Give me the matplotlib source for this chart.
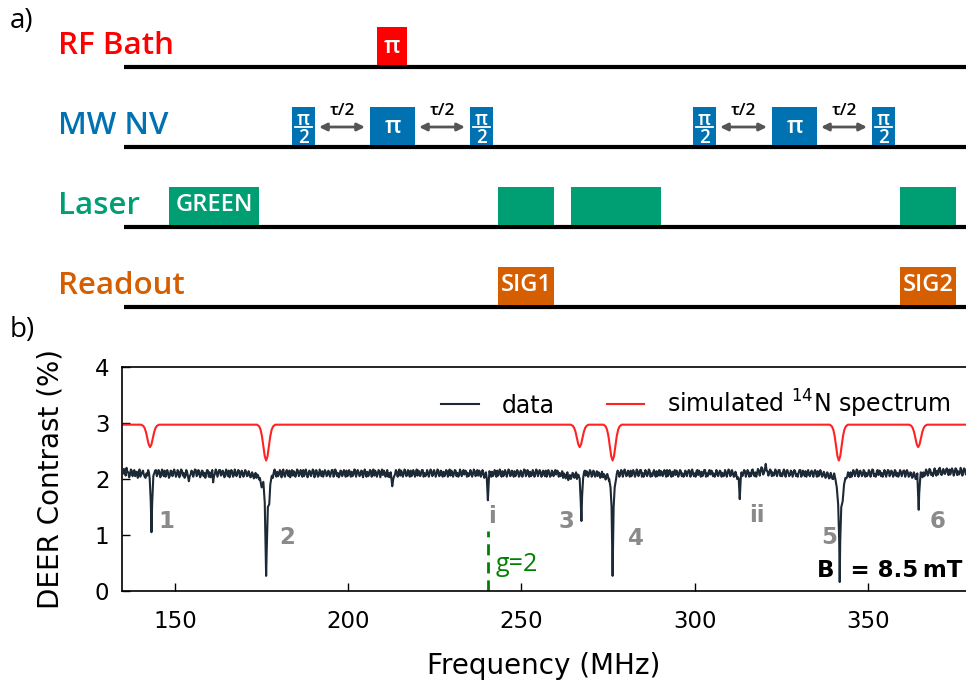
import numpy as np
import matplotlib
matplotlib.use("Agg")
import matplotlib.pyplot as plt

# ---- panel a: pulse sequence (time in arbitrary units along the channel line) ----
channels = ["RF Bath", "MW NV", "Laser", "Readout"]
channel_colors = ["#ff0000", "#0072b2", "#009e73", "#d55e00"]
rf_start, rf_end, rf_label = [253], [283], ["π"]
mw_start = [168, 246, 346, 569, 648, 748]
mw_end = [191, 291, 369, 592, 693, 771]
mw_label = ["π/2", "π", "π/2", "π/2", "π", "π/2"]
laser_start, laser_end = [45, 374, 447, 776], [135, 430, 537, 832]
laser_label = ["GREEN", "", "", ""]
read_start, read_end, read_label = [374, 776], [430, 832], ["SIG1", "SIG2"]
seq_length = 842

# ---- panel b: DEER spectrum ----
# measured trace away from the resonances, 0.5 MHz steps from 135 MHz
base_val = [
    2.10, 2.15, 2.20, 2.12, 2.07, 2.15, 2.10, 2.05, 2.13, 2.09, 2.04, 2.12, 2.08, 2.02, 2.06, 2.11, 2.08, 2.14, 2.10, 2.16,
    2.09, 2.13, 2.07, 2.12, 2.15, 2.08, 2.11, 2.06, 2.14, 2.10, 2.12, 2.07, 2.13, 2.09, 2.15, 2.11, 2.05, 2.12, 1.96, 2.08,
    2.13, 2.10, 2.16, 2.08, 2.12, 2.07, 2.14, 2.11, 2.09, 2.15, 2.12, 2.06, 1.94, 2.09, 2.13, 2.10, 2.16, 2.08, 2.12, 2.07,
    2.11, 2.15, 2.09, 2.13, 2.07, 2.12, 2.10, 2.14, 2.08, 2.11, 2.09, 2.13, 2.06, 2.10, 2.04, 2.08, 2.05, 2.02, 2.06, 2.03,
    2.05, 2.00, 2.02, 2.04, 2.07, 2.10, 2.06, 2.12, 2.09, 2.13, 2.08, 2.14, 2.11, 2.07, 2.12, 2.10, 2.15, 2.09, 2.06, 2.12,
    2.10, 2.14, 2.08, 2.12, 2.16, 2.09, 2.11, 2.07, 2.13, 2.10, 2.15, 2.08, 2.12, 2.06, 2.11, 2.14, 2.09, 2.13, 2.07, 2.12,
    2.10, 2.16, 2.08, 2.13, 2.11, 2.06, 2.14, 2.09, 2.12, 2.15, 2.07, 2.11, 2.13, 2.08, 2.16, 2.10, 2.12, 2.07, 2.14, 2.09,
    2.11, 2.13, 2.08, 2.15, 2.10, 2.06, 2.12, 2.09, 2.14, 2.10, 2.07, 2.12, 2.08, 2.04, 2.03, 2.09, 2.12, 2.08, 2.13, 2.10,
    2.06, 2.12, 2.09, 2.14, 2.07, 2.11, 2.15, 2.08, 2.12, 2.10, 2.06, 2.13, 2.09, 2.16, 2.11, 2.07, 2.12, 2.10, 2.14, 2.08,
    2.12, 2.09, 2.15, 2.07, 2.11, 2.13, 2.08, 2.14, 2.10, 2.06, 2.12, 2.09, 2.15, 2.11, 2.07, 2.13, 2.10, 2.08, 2.14, 2.11,
    2.07, 2.12, 2.09, 2.14, 2.10, 2.06, 2.13, 2.08, 2.11, 2.05, 2.03, 2.06, 2.10, 2.13, 2.08, 2.12, 2.15, 2.09, 2.11, 2.14,
    2.08, 2.12, 2.10, 2.15, 2.07, 2.11, 2.14, 2.09, 2.13, 2.06, 2.12, 2.10, 2.16, 2.08, 2.11, 2.13, 2.07, 2.12, 2.09, 2.14,
    2.10, 2.13, 2.07, 2.12, 2.15, 2.09, 2.11, 2.06, 2.13, 2.10, 2.08, 2.14, 2.11, 2.07, 2.02, 2.08, 2.05, 1.98, 2.07, 2.04,
    2.09, 2.05, 2.00, 2.07, 2.04, 2.08, 2.10, 2.06, 2.12, 2.09, 2.13, 2.07, 2.11, 2.08, 2.05, 2.10, 2.06, 2.03, 2.07, 2.02,
    2.04, 2.00, 2.05, 2.02, 2.06, 2.09, 2.12, 2.08, 2.14, 2.10, 2.13, 2.07, 2.11, 2.15, 2.09, 2.12, 2.08, 2.14, 2.10, 2.16,
    2.11, 2.07, 2.13, 2.09, 2.15, 2.10, 2.12, 2.08, 2.14, 2.11, 2.06, 2.13, 2.09, 2.12, 2.16, 2.10, 2.08, 2.13, 2.11, 2.07,
    2.12, 2.09, 2.14, 2.10, 2.06, 2.13, 2.11, 2.15, 2.08, 2.12, 2.10, 2.14, 2.07, 2.11, 2.13, 2.09, 2.16, 2.10, 2.12, 2.08,
    2.14, 2.10, 2.07, 2.12, 2.09, 2.13, 2.11, 2.06, 2.12, 2.10, 2.15, 2.08, 2.11, 2.05, 2.08, 2.03, 2.09, 2.12, 2.10, 2.14,
    2.09, 2.13, 2.11, 2.16, 2.08, 2.12, 2.10, 2.15, 2.13, 2.19, 2.11, 2.27, 2.14, 2.10, 2.15, 2.12, 2.08, 2.14, 2.11, 2.16,
    2.10, 2.13, 2.08, 2.15, 2.11, 2.07, 2.13, 2.10, 2.14, 2.09, 2.12, 2.16, 2.08, 2.11, 2.14, 2.10, 2.07, 2.12, 2.09, 2.13,
    2.10, 2.14, 2.08, 2.11, 2.06, 2.09, 2.05, 2.08, 2.02, 2.06, 2.00, 2.03, 1.98, 2.02, 2.04, 2.00, 2.05, 2.08, 2.04, 2.09,
    2.12, 2.08, 2.13, 2.10, 2.15, 2.09, 2.12, 2.07, 2.14, 2.11, 2.08, 2.13, 2.10, 2.16, 2.09, 2.12, 2.07, 2.14, 2.11, 2.08,
    2.13, 2.10, 2.15, 2.09, 2.12, 2.07, 2.14, 2.11, 2.08, 2.13, 2.10, 2.15, 2.09, 2.12, 2.06, 2.10, 2.04, 2.08, 2.02, 2.06,
    2.04, 2.09, 2.12, 2.08, 2.14, 2.10, 2.16, 2.11, 2.13, 2.09, 2.15, 2.18, 2.11, 2.14, 2.10, 2.16, 2.12, 2.17, 2.13, 2.15,
    2.11, 2.18, 2.14, 2.10, 2.16, 2.12, 2.17, 2.13, 2.15, 2.11,
]
# the in-between samples (0.25 MHz after each base sample)
mid_val = [
    2.18, 2.06, 2.13, 2.03, 2.17, 2.05, 2.16, 2.12, 2.02, 2.17, 2.08, 2.15, 2.04, 2.10, 2.16, 2.03, 2.18, 2.06, 2.15, 2.05,
    2.16, 2.03, 2.17, 2.05, 2.04, 2.16, 2.02, 2.15, 2.05, 2.17, 2.04, 2.16, 2.03, 2.17, 2.06, 2.02, 2.16, 2.04, 2.05, 2.15,
    2.04, 2.17, 2.05, 2.16, 2.03, 2.15, 2.05, 2.02, 2.16, 2.04, 2.03, 2.16, 2.05, 2.17, 2.04, 2.16, 2.06, 2.15, 2.03, 2.17,
    2.05, 2.03, 2.16, 2.04, 2.17, 2.05, 2.16, 2.03, 2.15, 2.04, 2.16, 2.05, 2.14, 2.03, 2.12, 2.01, 2.11, 2.08, 1.99, 2.10,
    1.98, 2.09, 2.07, 2.12, 2.03, 2.15, 2.02, 2.17, 2.04, 2.05, 2.16, 2.03, 2.17, 2.04, 2.16, 2.05, 2.03, 2.16, 2.14, 2.04,
    2.17, 2.05, 2.16, 2.04, 2.05, 2.17, 2.03, 2.15, 2.05, 2.17, 2.03, 2.16, 2.04, 2.17, 2.05, 2.04, 2.16, 2.05, 2.15, 2.04,
    2.16, 2.04, 2.17, 2.05, 2.03, 2.15, 2.05, 2.16, 2.04, 2.05, 2.16, 2.04, 2.05, 2.17, 2.04, 2.16, 2.05, 2.15, 2.03, 2.17,
    2.04, 2.05, 2.16, 2.04, 2.17, 2.15, 2.04, 2.16, 2.03, 2.17, 2.15, 2.04, 2.16, 2.10, 2.12, 2.02, 2.05, 2.16, 2.04, 2.17,
    2.15, 2.04, 2.17, 2.05, 2.16, 2.04, 2.05, 2.16, 2.04, 2.17, 2.15, 2.05, 2.16, 2.04, 2.05, 2.16, 2.04, 2.17, 2.05, 2.16,
    2.04, 2.17, 2.05, 2.15, 2.04, 2.05, 2.16, 2.04, 2.17, 2.15, 2.04, 2.16, 2.05, 2.04, 2.17, 2.05, 2.16, 2.15, 2.04, 2.05,
    2.16, 2.04, 2.17, 2.05, 2.16, 2.15, 2.04, 2.16, 2.02, 2.12, 2.10, 2.14, 2.04, 2.05, 2.16, 2.04, 2.06, 2.17, 2.04, 2.05,
    2.16, 2.04, 2.17, 2.05, 2.15, 2.04, 2.05, 2.16, 2.04, 2.15, 2.04, 2.17, 2.05, 2.16, 2.04, 2.05, 2.16, 2.04, 2.17, 2.05,
    2.16, 2.04, 2.15, 2.05, 2.04, 2.16, 2.04, 2.15, 2.05, 2.16, 2.15, 2.04, 2.05, 2.14, 2.10, 2.01, 2.12, 2.06, 2.00, 2.11,
    2.02, 2.12, 2.08, 2.01, 2.13, 2.02, 2.15, 2.14, 2.04, 2.16, 2.04, 2.15, 2.04, 2.14, 2.12, 2.02, 2.13, 2.09, 1.99, 2.09,
    1.97, 2.08, 2.01, 2.10, 2.00, 2.15, 2.04, 2.16, 2.04, 2.17, 2.05, 2.15, 2.04, 2.05, 2.16, 2.04, 2.17, 2.05, 2.16, 2.04,
    2.04, 2.16, 2.05, 2.17, 2.04, 2.05, 2.16, 2.04, 2.05, 2.16, 2.14, 2.05, 2.16, 2.04, 2.05, 2.16, 2.04, 2.05, 2.16, 2.15,
    2.04, 2.16, 2.05, 2.04, 2.15, 2.05, 2.16, 2.04, 2.17, 2.05, 2.04, 2.16, 2.15, 2.04, 2.05, 2.16, 2.04, 2.05, 2.16, 2.15,
    2.05, 2.04, 2.16, 2.05, 2.15, 2.04, 2.05, 2.16, 2.04, 2.17, 2.05, 2.16, 2.04, 2.13, 2.00, 2.12, 2.03, 2.05, 2.16, 2.04,
    2.16, 2.04, 2.05, 2.17, 2.05, 2.04, 2.18, 2.06, 2.21, 2.08, 2.17, 2.15, 2.06, 2.17, 2.05, 2.06, 2.17, 2.05, 2.16, 2.05,
    2.05, 2.17, 2.04, 2.16, 2.05, 2.15, 2.04, 2.16, 2.05, 2.04, 2.16, 2.04, 2.15, 2.05, 2.04, 2.16, 2.05, 2.15, 2.04, 2.16,
    2.04, 2.05, 2.16, 2.04, 2.13, 2.02, 2.12, 2.01, 2.11, 2.00, 2.10, 1.99, 2.08, 1.97, 2.09, 2.10, 1.99, 2.01, 2.12, 2.03,
    2.04, 2.16, 2.05, 2.17, 2.04, 2.15, 2.05, 2.16, 2.04, 2.05, 2.16, 2.04, 2.17, 2.05, 2.04, 2.16, 2.15, 2.05, 2.04, 2.16,
    2.04, 2.16, 2.05, 2.15, 2.04, 2.16, 2.05, 2.04, 2.16, 2.05, 2.15, 2.04, 2.16, 2.04, 2.12, 2.02, 2.12, 2.00, 2.10, 2.01,
    2.12, 2.03, 2.05, 2.17, 2.06, 2.18, 2.07, 2.05, 2.19, 2.06, 2.08, 2.20, 2.07, 2.18, 2.09, 2.19, 2.07, 2.08, 2.19, 2.06,
    2.19, 2.07, 2.08, 2.20, 2.06, 2.19, 2.08, 2.07, 2.19, 2.08,
]
base_f0, base_step = 135.0, 0.5

# narrow resonances in the measured trace
dip1_f = [142.7, 143.0, 143.2, 143.4, 143.7]
dip1_v = [2.00, 1.60, 1.05, 1.55, 2.00]
dip2_f = [174.5, 175.0, 175.5, 175.9, 176.1, 176.3, 176.5, 176.8, 177.2, 177.5, 177.9]
dip2_v = [2.02, 1.85, 1.95, 1.58, 0.90, 0.27, 0.80, 1.50, 1.55, 1.90, 2.05]
dip_a_f = [212.4, 212.7, 213.0]
dip_a_v = [2.05, 1.87, 2.00]
dip_i_f = [240.0, 240.3, 240.6]
dip_i_v = [2.00, 1.62, 2.00]
dip3_f = [266.8, 267.1, 267.3, 267.5, 267.8]
dip3_v = [2.00, 1.60, 1.25, 1.70, 2.02]
dip4_f = [275.3, 275.7, 276.0, 276.3, 276.6, 276.9, 277.3]
dip4_v = [2.00, 1.85, 1.50, 0.27, 1.50, 1.85, 2.00]
dip_ii_f = [312.7, 313.0, 313.3]
dip_ii_v = [2.00, 1.64, 2.02]
dip5_f = [340.6, 341.0, 341.4, 341.7, 341.85, 342.0, 342.3, 342.7, 343.1, 343.5]
dip5_v = [2.00, 1.85, 1.55, 0.90, 0.16, 0.90, 1.50, 1.60, 1.90, 2.02]
dip6_f = [364.3, 364.5, 364.65, 364.8, 365.1]
dip6_v = [2.00, 1.70, 1.45, 1.75, 2.02]

# simulated 14N spectrum: flat level with dips of a common shape
sim_level = 2.97
sim_centers = [142.8, 176.3, 266.8, 276.3, 341.6, 364.5]
sim_depths = [0.40, 0.64, 0.40, 0.64, 0.64, 0.40]
dip_offsets = [-2.6, -2.0, -1.6, -1.2, -0.8, -0.4, 0.0, 0.4, 0.8, 1.2, 1.6, 2.0, 2.6]
dip_shape = [0.0, 0.05, 0.14, 0.32, 0.60, 0.88, 1.0, 0.88, 0.60, 0.32, 0.14, 0.05, 0.0]

peak_labels = ["1", "2", "i", "3", "4", "ii", "5", "6"]
peak_label_x = [147.6, 182.4, 241.5, 262.9, 283.0, 317.8, 338.9, 370.0]
peak_label_y = [1.24, 0.95, 1.33, 1.25, 0.94, 1.34, 0.95, 1.25]
g2_freq = 240.3

# ---------------------------------------------------------------------------
W, H = 966, 681
fig = plt.figure(figsize=(W / 100, H / 100), dpi=100)

# panel a lives in a full-figure overlay; x = sequence time, y = channel row
x0 = 124                      # pixel where the channel lines start
row_px, row0_px = 80, 67
ax_a = fig.add_axes([0, 0, 1, 1])
ax_a.set_xlim(-x0, W - x0)
ax_a.set_ylim((H - row0_px) / row_px, -row0_px / row_px)
ax_a.axis("off")
ax_a.patch.set_visible(False)

FONT = "Open Sans"
box_h = 0.5
blue, green, orange = channel_colors[1], channel_colors[2], channel_colors[3]

for i, (name, col) in enumerate(zip(channels, channel_colors)):
    ax_a.plot([0, seq_length], [i, i], color="black", lw=3, solid_capstyle="butt", zorder=1)
    ax_a.text(-66, i - 0.1625, name, color=col, fontsize=22.5, family=FONT,
              weight="semibold", ha="left", va="baseline")


def pulse(row, t0, t1, color, label, size=17, weight="semibold", dy=0.0):
    ax_a.fill_between([t0, t1], row - box_h, row - 0.02, color=color, lw=0, zorder=2)
    if label:
        ax_a.text((t0 + t1) / 2, row - box_h / 2 + dy, label, color="white", fontsize=size,
                  family=FONT, weight=weight, ha="center", va="center", zorder=3)


for t0, t1, lab in zip(rf_start, rf_end, rf_label):
    pulse(0, t0, t1, channel_colors[0], lab, size=17)

for k, (t0, t1, lab) in enumerate(zip(mw_start, mw_end, mw_label)):
    if lab == "π":
        pulse(1, t0, t1, blue, "π", size=17)
    else:
        pulse(1, t0, t1, blue, "")
        xc = (t0 + t1) / 2
        ax_a.text(xc, 1 - 0.34, "π", color="white", fontsize=13.5, family=FONT,
                  weight="semibold", ha="center", va="center", zorder=3)
        ax_a.text(xc, 1 - 0.11, "2", color="white", fontsize=13.5, family=FONT,
                  weight="semibold", ha="center", va="center", zorder=3)
        ax_a.plot([t0 + 3, t1 - 3], [1 - box_h / 2, 1 - box_h / 2], color="white", lw=1.3, zorder=3)
    # free evolution arrows between neighbouring pulses of one echo
    if k + 1 < len(mw_start) and mw_start[k + 1] - t1 < 80:
        a0, a1 = t1 + 4, mw_start[k + 1] - 5
        ax_a.annotate("", xy=(a1, 1 - 0.25), xytext=(a0, 1 - 0.25),
                      arrowprops=dict(arrowstyle="<|-|>,head_length=0.45,head_width=0.22",
                                      color="#555555", lw=2, shrinkA=0, shrinkB=0))
        ax_a.text((a0 + a1) / 2, 1 - 0.45, "τ/2", color="black", fontsize=12.5,
                  family=FONT, weight="semibold", ha="center", va="center")

for t0, t1, lab in zip(laser_start, laser_end, laser_label):
    pulse(2, t0, t1, green, lab, size=17, dy=-0.02)

for t0, t1, lab in zip(read_start, read_end, read_label):
    pulse(3, t0, t1, orange, lab, size=17, dy=-0.02)

ax_a.text(-x0 + 10, -0.49, "a)", fontsize=20, family=FONT, ha="left", va="baseline")
ax_a.text(-x0 + 10, 3.375, "b)", fontsize=20, family=FONT, ha="left", va="baseline")

# panel b
ax = fig.add_axes([122 / W, 90 / H, (W - 122) / W, 224 / H])

base_f = base_f0 + base_step * np.arange(len(base_val))
mid_f = base_f[:len(mid_val)] + base_step / 2
trace_f = np.concatenate([base_f, mid_f])
trace_v = np.concatenate([base_val, mid_val])
dips = [(dip1_f, dip1_v), (dip2_f, dip2_v), (dip_a_f, dip_a_v), (dip_i_f, dip_i_v),
        (dip3_f, dip3_v), (dip4_f, dip4_v), (dip_ii_f, dip_ii_v), (dip5_f, dip5_v),
        (dip6_f, dip6_v)]
keep = np.ones(len(trace_f), bool)
for f, _ in dips:
    keep &= ~((trace_f >= min(f)) & (trace_f <= max(f)))
data_f = np.concatenate([trace_f[keep]] + [np.array(f) for f, _ in dips])
data_v = np.concatenate([trace_v[keep]] + [np.array(v) for _, v in dips])
order = np.argsort(data_f)

sim_f = [130.0]
sim_v = [sim_level]
for c, d in zip(sim_centers, sim_depths):
    sim_f += [c + o for o in dip_offsets]
    sim_v += [sim_level - d * s for s in dip_shape]
sim_f.append(385.0)
sim_v.append(sim_level)

ax.plot(data_f[order], data_v[order], color="#1d2935", lw=1.5, label="data", zorder=3)
ax.plot(sim_f, sim_v, color="#ff2222", lw=1.5, label=r"simulated $^{14}$N spectrum", zorder=2)

ax.plot([g2_freq, g2_freq], [0, 1.08], color="green", lw=2, ls=(0, (4, 2.5)), zorder=2)
ax.text(242.6, 0.36, "g=2", color="green", fontsize=18, family=FONT, ha="left", va="baseline")

for lab, x, y in zip(peak_labels, peak_label_x, peak_label_y):
    ax.text(x, y, lab, color="#8a8a8a", fontsize=16.5, weight="bold", ha="center", va="center")

ax.text(377.3, 0.255, "B  = 8.5\u2009mT", fontsize=16.5, weight="bold", ha="right", va="baseline")

ax.set_xlim(134.7, 378.3)
ax.set_ylim(0, 4)
ax.set_xticks([150, 200, 250, 300, 350])
ax.set_yticks([0, 1, 2, 3, 4])
ax.tick_params(direction="in", length=6, width=1, labelsize=16.5)
ax.tick_params(axis="x", pad=14)
ax.tick_params(axis="y", pad=9)
ax.spines["right"].set_visible(False)
for s in ("left", "bottom", "top"):
    ax.spines[s].set_linewidth(1.2)
ax.set_xlabel("Frequency (MHz)", fontsize=20, labelpad=13)
ax.set_ylabel("DEER Contrast (%)", fontsize=20, labelpad=22)
ax.legend(ncol=2, loc="center right", bbox_to_anchor=(0.981, 0.835), frameon=False,
          fontsize=17, handlelength=1.6, handletextpad=0.95, columnspacing=2.2,
          borderpad=0, borderaxespad=0)

fig.savefig("out.png", dpi=100)
